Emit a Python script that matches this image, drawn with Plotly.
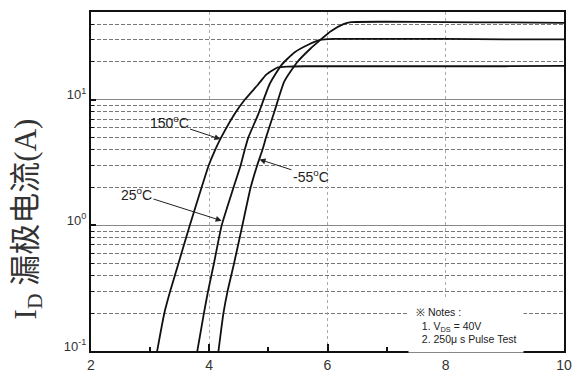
import plotly.graph_objects as go
import math

# ---- data ----
vgs_150 = [3.11, 3.24, 3.34, 3.48, 3.67, 3.87, 3.99, 4.10, 4.20, 4.45, 4.60, 4.83, 4.96, 5.16, 5.33, 5.6, 6.0, 7.0, 8.0, 9.0, 10.0]
id_150 = [0.095, 0.2, 0.3, 0.5, 1.0, 2.0, 3.0, 4.0, 5.0, 8.0, 10.0, 13.3, 15.8, 18.1, 18.4, 18.5, 18.5, 18.5, 18.5, 18.5, 18.6]

vgs_25 = [3.79, 3.91, 3.98, 4.08, 4.21, 4.41, 4.53, 4.60, 4.66, 4.83, 5.02, 5.22, 5.44, 5.69, 5.88, 6.1, 7.0, 8.0, 9.0, 10.0]
id_25 = [0.095, 0.2, 0.3, 0.5, 1.0, 2.0, 3.0, 4.0, 5.0, 7.7, 13.3, 18.9, 23.8, 27.7, 30.0, 30.5, 30.5, 30.5, 30.3, 30.3]

vgs_m55 = [4.15, 4.24, 4.31, 4.42, 4.56, 4.70, 4.81, 4.90, 4.96, 5.10, 5.27, 5.49, 5.71, 5.88, 6.05, 6.27, 6.4, 7.0, 8.0, 9.0, 10.0]
id_m55 = [0.095, 0.2, 0.3, 0.5, 1.0, 2.0, 3.0, 4.0, 5.0, 8.0, 14.0, 20.0, 25.5, 30.0, 35.0, 40.0, 41.5, 41.8, 41.5, 41.3, 41.0]

x_ticks = [2, 4, 6, 8, 10]
x_minor = [3, 5, 7, 9]
y_major = [0.1, 1, 10]
y_major_text = ["10<sup>-1</sup>", "10<sup>0</sup>", "10<sup>1</sup>"]
y_minor = [0.2, 0.3, 0.4, 0.5, 0.6, 0.7, 0.8, 0.9,
           2, 3, 4, 5, 6, 7, 8, 9, 20, 30, 40]

# curve labels: (text, tip_x, tip_y, text_x, text_y)
labels = [
    ("150<sup>o</sup>C", 4.19, 4.86, 3.32, 6.65),
    ("25<sup>o</sup>C", 4.21, 1.09, 2.77, 1.79),
    ("-55<sup>o</sup>C", 4.85, 3.35, 5.72, 2.47),
]

fig = go.Figure()
for xs, ys in [(vgs_150, id_150), (vgs_25, id_25), (vgs_m55, id_m55)]:
    fig.add_trace(go.Scatter(x=xs, y=ys, mode="lines",
                             line=dict(color="#111", width=1.8, shape="spline", smoothing=0.5),
                             showlegend=False, hoverinfo="skip"))

for txt, tx, ty, lx, ly in labels:
    fig.add_annotation(x=tx, y=math.log10(ty), ax=lx, ay=math.log10(ly),
                       xref="x", yref="y", axref="x", ayref="y",
                       text=txt, showarrow=True, arrowhead=2, arrowsize=1.2,
                       arrowwidth=1, arrowcolor="#222", standoff=0,
                       font=dict(family="Liberation Sans, Arial, sans-serif", size=14, color="#222"))

fig.add_annotation(x=0.67, y=0.155, xref="x domain", yref="y domain",
                   xanchor="left", yanchor="top", align="left", showarrow=False,
                   text="\u203b Notes :<br>\u00a0 1. V<sub>DS</sub> = 40V<br>\u00a0 2. 250\u03bc s Pulse Test",
                   bgcolor="white", borderpad=7,
                   font=dict(family="Liberation Sans, Arial, sans-serif", size=10.5, color="#222"))

fig.add_annotation(x=-0.134, y=0.39, xref="paper", yref="paper",
                   xanchor="center", yanchor="middle", textangle=-90, showarrow=False,
                   text="I<sub>D</sub> 漏极电流(A)",
                   font=dict(family="Liberation Serif, Noto Sans CJK SC, serif", size=31, color="#333"))

fig.update_layout(
    width=582, height=383,
    margin=dict(l=91, r=12, t=10, b=26),
    paper_bgcolor="white", plot_bgcolor="white",
    xaxis=dict(range=[2, 10], tickvals=x_ticks, ticks="inside", ticklen=7, tickwidth=1.5,
               tickcolor="#111", showline=True, mirror=True, linewidth=2, linecolor="#111",
               showgrid=True, gridcolor="#aaa", griddash="dot", gridwidth=1, zeroline=False,
               tickfont=dict(family="Liberation Sans, Arial, sans-serif", size=14, color="#333"),
               minor=dict(tickvals=x_minor, ticks="inside", ticklen=4, tickwidth=1.5,
                          tickcolor="#111", showgrid=False)),
    yaxis=dict(type="log", range=[-1, math.log10(50)], tickvals=y_major, ticktext=y_major_text,
               ticks="inside", ticklen=5, tickwidth=1.5, tickcolor="#111",
               showline=True, mirror=True, linewidth=2, linecolor="#111",
               showgrid=True, gridcolor="#888", gridwidth=1, zeroline=False,
               ticklabelshift=-5,
               tickfont=dict(family="Liberation Sans, Arial, sans-serif", size=13, color="#333"),
               minor=dict(tickvals=y_minor, ticks="inside", ticklen=3, tickwidth=1.2,
                          tickcolor="#111", showgrid=True, gridcolor="#777",
                          griddash="4px,2px", gridwidth=1)),
)

fig.write_html("out.html")
